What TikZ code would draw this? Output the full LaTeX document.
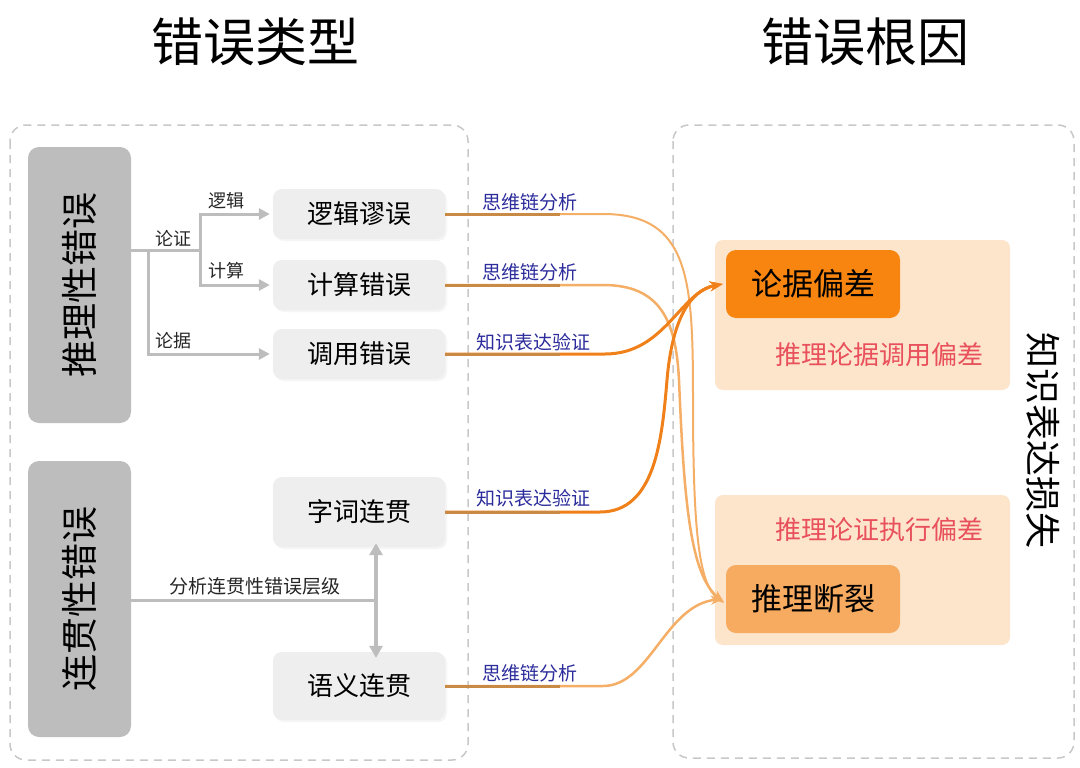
\documentclass[tikz,border=0pt]{standalone}
\usepackage{fontspec}
\setmainfont{Noto Sans CJK SC}
\usetikzlibrary{arrows.meta,shadows}
\definecolor{dashgray}{HTML}{C8C8C8}
\definecolor{boxgray}{HTML}{BDBDBD}
\definecolor{lightgray}{HTML}{EEEEEE}
\definecolor{arrgray}{HTML}{BDBDBD}
\definecolor{deeporange}{HTML}{F7850F}
\definecolor{softorange}{HTML}{F6AB61}
\definecolor{peach}{HTML}{FDE5CC}
\definecolor{redtext}{HTML}{E8505B}
\definecolor{bluetext}{HTML}{2C2C9C}
\definecolor{curvedark}{HTML}{F08019}
\definecolor{curvelight}{HTML}{F5AE66}
\definecolor{segbrown}{HTML}{C98A45}
\begin{document}
\begin{tikzpicture}[x=1pt,y=-1pt,
  fs/.style={font=\fontsize{#1}{#1}\selectfont},
  dashframe/.style={draw=dashgray, line width=1.5pt, dash pattern=on 8pt off 6pt, rounded corners=16pt},
  bigbox/.style={fill=boxgray, rounded corners=11pt, minimum width=103pt, minimum height=276pt, inner sep=0pt},
  typebox/.style={fill=lightgray, rounded corners=9pt, minimum width=172pt, inner sep=0pt, fs=26,
     drop shadow={opacity=0.08, shadow xshift=2pt, shadow yshift=-2pt}},
  peachbox/.style={fill=peach, rounded corners=8pt, minimum width=295pt, minimum height=150pt, inner sep=0pt},
  causebox/.style={rounded corners=10pt, minimum width=174pt, minimum height=68pt, inner sep=0pt, fs=31},
  grayarrow/.style={draw=arrgray, line width=3pt, -{Triangle[length=11pt,width=11pt]}},
  grayline/.style={draw=arrgray, line width=3pt},
  glabel/.style={fs=18, text=black!85},
  blabel/.style={fs=19, text=bluetext},
  darkcurve/.style={draw=curvedark, line width=3pt, -{Stealth[length=13pt,width=10pt]}},
  lightcurve/.style={draw=curvelight, line width=2.5pt, -{Stealth[length=12pt,width=9pt]}},
  seg/.style={draw=segbrown, line width=3pt}
]
\useasboundingbox[fill=white] (0,0) rectangle (1080,768);

% titles
\node[fs=52] (t1) at (255,42) {错误类型};
\node[fs=52] (t2) at (865,42) {错误根因};

% frames
\draw[dashframe] (10,125) rectangle (468,760);
\draw[dashframe] (673,125) rectangle (1074,758);

% left category boxes
\node[bigbox] (reason) at (79.5,285) {};
\node[rotate=90, fs=37] (reasontxt) at (reason.center) {推理性错误};
\node[bigbox] (coh) at (79.5,599) {};
\node[rotate=90, fs=37] (cohtxt) at (coh.center) {连贯性错误};

% error type boxes
\node[typebox, minimum height=50pt] (logic) at (359,214) {逻辑谬误};
\node[typebox, minimum height=50pt] (calc) at (359,285) {计算错误};
\node[typebox, minimum height=50pt] (call) at (359,354) {调用错误};
\node[typebox, minimum height=70pt] (word) at (359,512) {字词连贯};
\node[typebox, minimum height=68pt] (sem) at (359,686) {语义连贯};

% branch coordinates
\coordinate (j1) at (148,250);
\coordinate (j2) at (200,250);
\coordinate (j3) at (376,600);

% reasoning branches
\draw[grayline] (reason.east |- j1) -- (j2);
\draw[grayarrow] (j1) |- ([xshift=-3pt]call.west);
\draw[grayarrow] (j2) |- ([xshift=-3pt]logic.west);
\draw[grayarrow] (j2) |- ([xshift=-3pt]calc.west);
\node[glabel] (l1) at (173,238) {论证};
\node[glabel] (l2) at (226,201) {逻辑};
\node[glabel] (l3) at (226,271) {计算};
\node[glabel] (l4) at (173,341) {论据};

% coherence branches
\draw[grayline] (coh.east |- j3) -- (j3);
\draw[draw=arrgray, line width=3.5pt, {Triangle[length=12pt,width=13pt]}-{Triangle[length=12pt,width=13pt]}]
  ([yshift=4pt]word.south -| j3) -- ([yshift=-6pt]sem.north -| j3);
\node[glabel, fs=19] (l5) at (255,586) {分析连贯性错误层级};

% right side
\node[peachbox] (bg1) at (862.5,315) {};
\node[peachbox] (bg2) at (862.5,570) {};
\node[causebox, fill=deeporange] (evid) at (813,284) {论据偏差};
\node[causebox, fill=softorange] (brk) at (813,599) {推理断裂};
\node[fs=26, text=redtext, anchor=east] (r1) at (987,355) {推理论据调用偏差};
\node[fs=26, text=redtext, anchor=east] (r2) at (987,530) {推理论证执行偏差};
\node[rotate=-90, fs=36] (loss) at (1043,440) {知识表达损失};

% curves
\draw[lightcurve, line width=2pt] (logic.east) -- (603,214) .. controls (690,214) and (693,280) .. (693,400) .. controls (693,540) and (700,585) .. ([xshift=-2pt,yshift=-4pt]brk.west);
\draw[lightcurve] (calc.east) -- (603,285) .. controls (660,285) and (676,320) .. (679,380) .. controls (684,500) and (690,575) .. ([xshift=-2pt,yshift=-3pt]brk.west);
\draw[darkcurve] (call.east) -- (605,354) .. controls (665,354) and (680,292) .. ([xshift=-3pt]evid.west);
\draw[darkcurve] (word.east) -- (600,512) .. controls (655,512) and (662,440) .. (667,380) .. controls (672,320) and (690,290) .. ([xshift=-3pt]evid.west);
\draw[lightcurve] (sem.east) -- (603,686) .. controls (650,686) and (665,605) .. ([xshift=-3pt]brk.west);

% brownish starting segments
\draw[seg] (logic.east) -- (560,214);
\draw[seg] (calc.east) -- (560,285);
\draw[seg] (call.east) -- (560,354);
\draw[seg] (word.east) -- (560,512);
\draw[seg] (sem.east) -- (560,686);

% labels on connectors
\node[blabel] (b1) at (530,202) {思维链分析};
\node[blabel] (b2) at (530,272) {思维链分析};
\node[blabel] (b3) at (533,342) {知识表达验证};
\node[blabel] (b4) at (533,498) {知识表达验证};
\node[blabel] (b5) at (530,673) {思维链分析};
\end{tikzpicture}
\end{document}
